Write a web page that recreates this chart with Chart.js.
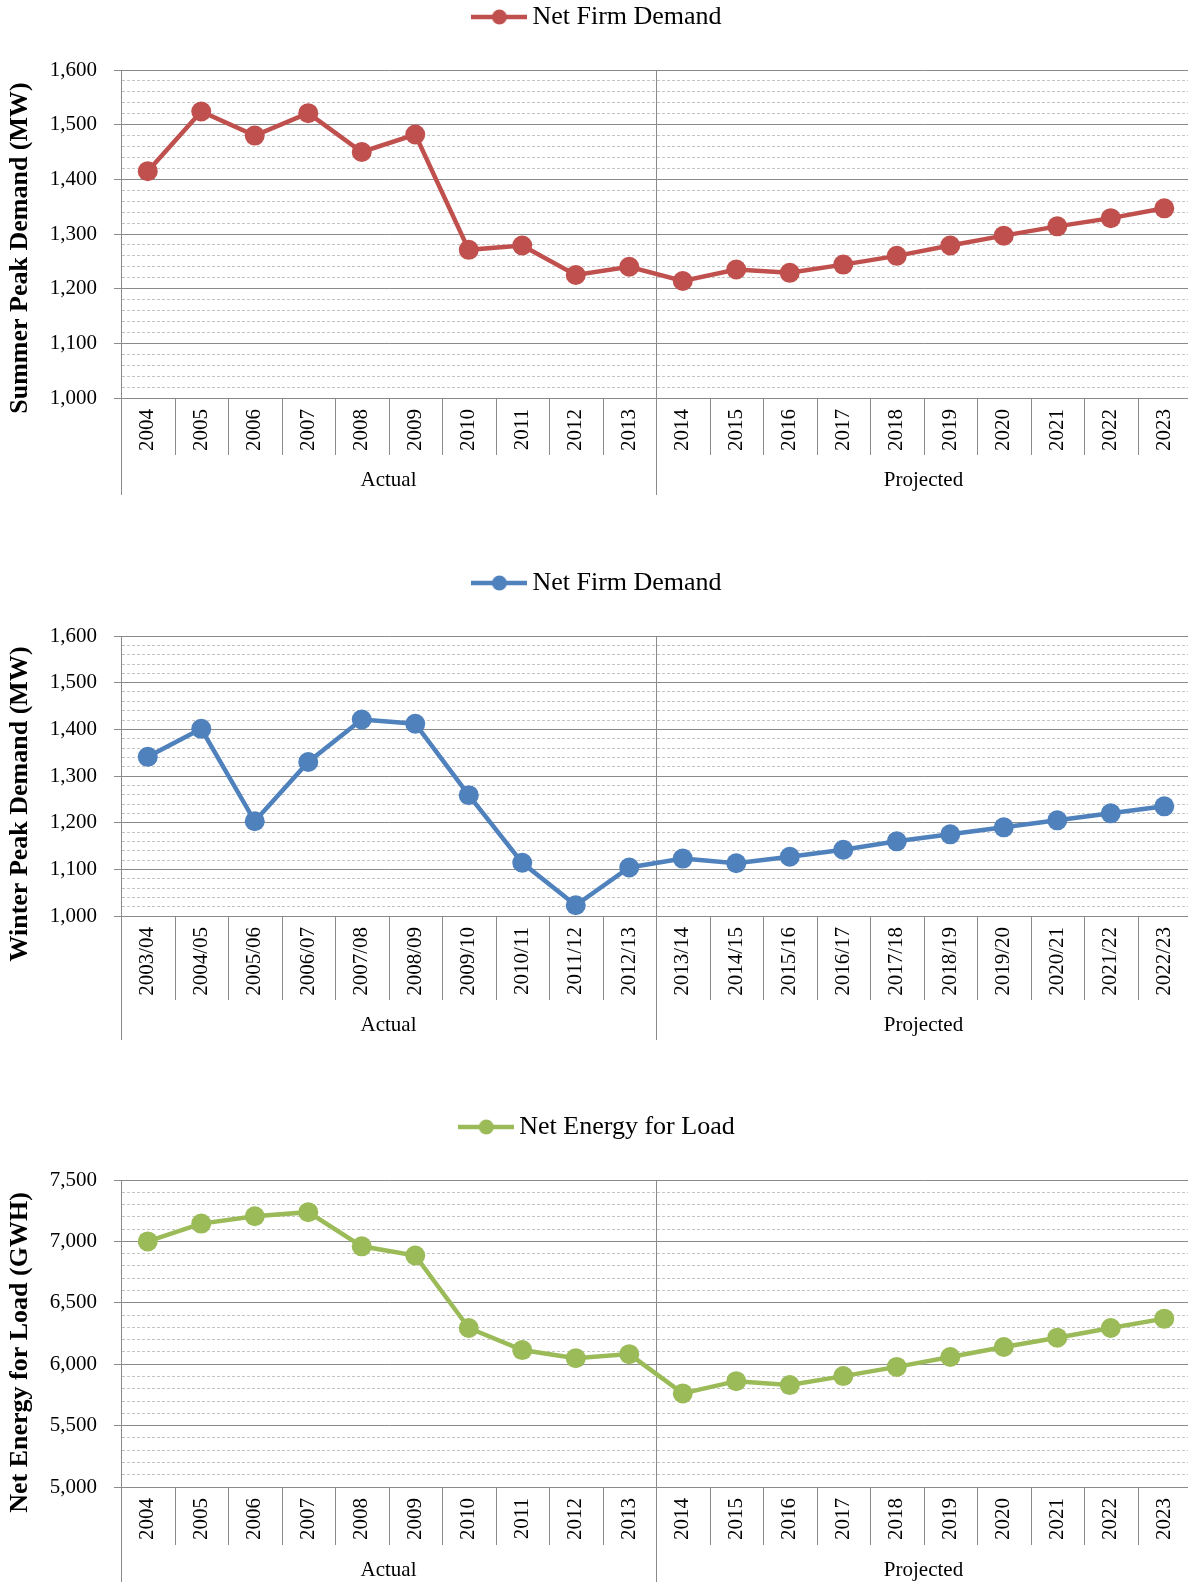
<!DOCTYPE html>
<html>
<head>
<meta charset="utf-8">
<script src="https://cdn.jsdelivr.net/npm/chart.js@4.4.0/dist/chart.umd.min.js"></script>
<style>
body { margin: 0; background: #fff; overflow: hidden; }
.box { position: absolute; left: 0; width: 1201px; }
</style>
</head>
<body>
<div class="box" style="top:0;height:500px"><canvas id="summerChart"></canvas></div>
<div class="box" style="top:566px;height:480px"><canvas id="winterChart"></canvas></div>
<div class="box" style="top:1110px;height:472px"><canvas id="energyChart"></canvas></div>
<script>
// categories
var years = ['2004','2005','2006','2007','2008','2009','2010','2011','2012','2013',
             '2014','2015','2016','2017','2018','2019','2020','2021','2022','2023'];
var winterYears = ['2003/04','2004/05','2005/06','2006/07','2007/08','2008/09','2009/10','2010/11','2011/12','2012/13',
                   '2013/14','2014/15','2015/16','2016/17','2017/18','2018/19','2019/20','2020/21','2021/22','2022/23'];
var groupNames = ['Actual', 'Projected'];
var groupSizes = [10, 10];

// series values
var summerDemand = [1415,1524,1480,1521,1450,1482,1271,1279,1225,1240,1214,1235,1229,1244,1260,1279,1297,1314,1329,1347];
var winterDemand = [1341,1401,1203,1330,1421,1412,1259,1114,1023,1104,1123,1113,1127,1142,1160,1175,1190,1205,1220,1235];
var energyLoad   = [7000,7145,7205,7238,6960,6885,6295,6115,6049,6082,5762,5862,5830,5903,5978,6059,6140,6216,6295,6371];

var axisGray = '#8a8a8a';
var minorGray = '#c4c4c4';
var serif = "'Liberation Serif', 'Times New Roman', serif";

Chart.defaults.font.family = serif;
Chart.defaults.color = '#000';

function legendIcon(color) {
    var c = document.createElement('canvas');
    c.width = 56; c.height = 20;
    var g = c.getContext('2d');
    g.strokeStyle = color;
    g.lineWidth = 4.5;
    g.beginPath(); g.moveTo(0, 10); g.lineTo(56, 10); g.stroke();
    g.fillStyle = color;
    g.beginPath(); g.arc(28, 10, 7.5, 0, Math.PI * 2); g.fill();
    return c;
}

// pushes the plot area down below the legend
const legendGap = {
    id: 'legendGap',
    beforeInit(chart) {
        const fit = chart.legend.fit;
        chart.legend.fit = function () {
            fit.call(this);
            this.height += 30;
        };
    }
};

function line(ctx, x, y1, y2) {
    ctx.beginPath(); ctx.moveTo(x, y1); ctx.lineTo(x, y2); ctx.stroke();
}

// Excel style two level category axis: separators, divider and group labels,
// plus the rotated y axis title (sits a bit below the plot centre, like Excel)
const categoryBands = {
    id: 'categoryBands',
    beforeDatasetsDraw(chart) {
        const xs = chart.scales.x, a = chart.chartArea, ctx = chart.ctx;
        ctx.save();
        ctx.strokeStyle = axisGray; ctx.lineWidth = 1;
        let idx = 0;
        for (let g = 0; g < groupSizes.length - 1; g++) {
            idx += groupSizes[g];
            line(ctx, Math.round(xs.getPixelForValue(idx - 0.5)) + 0.5, a.top, a.bottom);
        }
        ctx.restore();
    },
    afterDraw(chart, args, opts) {
        const xs = chart.scales.x, a = chart.chartArea, ctx = chart.ctx;
        const n = chart.data.labels.length;
        const sepEnd = xs.bottom;
        const edges = [0];
        groupSizes.forEach(s => edges.push(edges[edges.length - 1] + s));
        ctx.save();
        ctx.strokeStyle = axisGray; ctx.lineWidth = 1;
        for (let i = 0; i <= n; i++) {
            const px = Math.round(xs.getPixelForValue(i - 0.5)) + 0.5;
            const end = edges.indexOf(i) >= 0 ? sepEnd + 40 : sepEnd;
            line(ctx, px, a.bottom, end);
        }
        ctx.fillStyle = '#000';
        ctx.font = '21px ' + serif;
        ctx.textAlign = 'center';
        ctx.textBaseline = 'middle';
        for (let g = 0; g < groupNames.length; g++) {
            const mid = (xs.getPixelForValue(edges[g]) + xs.getPixelForValue(edges[g + 1] - 1)) / 2;
            ctx.fillText(groupNames[g], mid, sepEnd + 25);
        }
        // y axis title
        ctx.translate(20, (a.top + a.bottom) / 2 + opts.titleShift);
        ctx.rotate(-Math.PI / 2);
        ctx.font = 'bold 26px ' + serif;
        ctx.fillText(opts.title, 0, 0);
        ctx.restore();
    }
};

function makeChart(id, labels, values, name, color, yMin, yMax, minor, major, yTitle, titleShift, xHeight, padBottom) {
    return new Chart(document.getElementById(id), {
        type: 'line',
        data: {
            labels: labels,
            datasets: [{
                label: name,
                data: values,
                borderColor: color,
                backgroundColor: color,
                borderWidth: 4.5,
                pointRadius: 10,
                pointHoverRadius: 10,
                pointBorderWidth: 0,
                pointBackgroundColor: color,
                tension: 0
            }]
        },
        plugins: [legendGap, categoryBands],
        options: {
            responsive: true,
            maintainAspectRatio: false,
            animation: false,
            layout: { padding: { left: 0, right: 0, top: 0, bottom: padBottom } },
            scales: {
                x: {
                    offset: true,
                    afterFit(scale) {
                        scale.height = xHeight;
                        scale.paddingLeft = 0;
                        scale.paddingRight = 0;
                    },
                    grid: { display: false },
                    border: { color: axisGray },
                    ticks: {
                        minRotation: 90,
                        maxRotation: 90,
                        autoSkip: false,
                        padding: 3,
                        color: '#000',
                        font: { size: 21 }
                    }
                },
                y: {
                    min: yMin,
                    max: yMax,
                    afterFit(scale) { scale.width = 121; },
                    ticks: {
                        stepSize: minor,
                        autoSkip: false,
                        maxTicksLimit: 200,
                        padding: 17,
                        color: '#000',
                        font: { size: 21 },
                        callback: v => v % major === 0 ? v.toLocaleString('en-US') : ''
                    },
                    grid: {
                        lineWidth: 1,
                        tickLength: 7,
                        color: c => c.tick && c.tick.value % major === 0 ? axisGray : minorGray,
                        tickColor: c => c.tick && c.tick.value % major === 0 ? axisGray : 'rgba(0,0,0,0)'
                    },
                    border: {
                        color: axisGray,
                        dash: c => c.tick && c.tick.value % major !== 0 ? [3, 2] : []
                    },
                    title: { display: false }
                }
            },
            plugins: {
                categoryBands: { title: yTitle, titleShift: titleShift },
                legend: {
                    position: 'top',
                    labels: {
                        usePointStyle: true,
                        pointStyle: legendIcon(color),
                        pointStyleWidth: 40,
                        padding: 4,
                        color: '#000',
                        font: { size: 26 }
                    }
                },
                tooltip: { enabled: false }
            }
        }
    });
}

makeChart('summerChart', years, summerDemand, 'Net Firm Demand', '#C0504D',
    1000, 1600, 20, 100, 'Summer Peak Demand (MW)', 14, 57, 45);
makeChart('winterChart', winterYears, winterDemand, 'Net Firm Demand', '#4F81BD',
    1000, 1600, 20, 100, 'Winter Peak Demand (MW)', 28, 84, 46);
makeChart('energyChart', years, energyLoad, 'Net Energy for Load', '#9BBB59',
    5000, 7500, 100, 500, 'Net Energy for Load (GWH)', 19, 58, 37);
</script>
</body>
</html>
